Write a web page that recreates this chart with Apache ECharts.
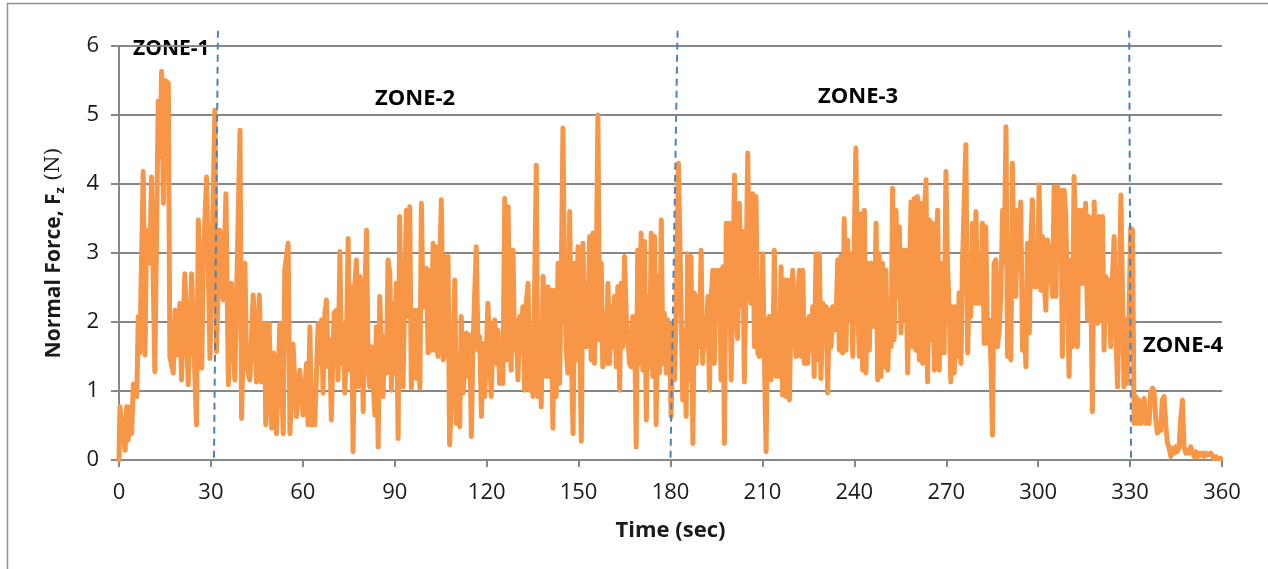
<!DOCTYPE html>
<html>
<head>
<meta charset="utf-8">
<script src="https://cdn.jsdelivr.net/npm/echarts@6/dist/echarts.min.js"></script>
<style>html,body{margin:0;padding:0;background:#fff}#c{width:1268px;height:569px}</style>
</head>
<body>
<div id="c"></div>
<script>
// [time (sec), normal force Fz (N)], by segment
const segA = [[0,0],[0.3,0.77],[2.0,0.14],[2.5,0.77],[3.0,0.29],[3.6,0.77],[4.1,0.38],[4.7,1.10],[5.8,0.92],[6.3,2.08],[6.8,1.55],[7.9,4.18],[8.5,1.52],[9.0,3.33],[10.1,2.85],[10.6,4.10],[11.7,1.28],[12.8,5.20],[13.4,4.40],[13.9,5.63],[14.5,3.72],[15.0,5.50],[16.1,5.46],[16.6,1.50],[17.7,1.26],[18.3,2.17],[18.8,1.52],[19.9,2.27],[20.4,1.16],[21.5,2.70],[22.6,1.09],[23.7,2.70],[25.3,0.51],[25.9,3.48],[27.0,1.33],[27.5,2.90],[28.6,4.10],[29.7,1.47],[31.3,5.07],[31.8,1.57],[32.9,3.33],[34.0,2.32],[34.9,3.86],[35.7,1.09],[36.7,2.56],[37.8,1.16],[39.5,4.78],[40.0,0.60],[41.1,2.85],[41.6,1.40],[42.7,1.16],[43.8,2.39],[44.9,1.13],[45.8,2.39],[46.5,1.13],[47.6,1.98],[47.9,0.51],[49.0,1.98],[49.8,0.46],[50.5,1.55],[51.4,0.38],[52.5,1.98],[53.6,0.38],[54.1,2.75],[55.2,3.14],[55.8,0.38],[56.8,1.68],[57.9,0.63],[59.0,1.30],[60.1,0.65],[61.2,1.40],[61.7,0.51],[62.3,1.93]];
const segB = [[62.8,0.51],[63.4,1.01],[63.9,0.51],[65.0,1.98],[65.5,1.40],[66.1,2.03],[66.6,0.97],[67.2,2.13],[67.7,2.32],[68.3,1.35],[68.8,1.74],[69.3,0.58],[70.2,2.13],[71.0,2.17],[71.5,1.16],[72.1,3.02],[72.6,1.40],[73.2,1.98],[73.7,0.97],[74.2,1.59],[74.8,3.21],[75.3,1.30],[75.9,2.51],[76.4,0.12],[77.0,2.56],[77.5,2.90],[78.0,1.06],[78.6,2.66],[79.1,2.46],[79.7,0.70],[80.2,2.37],[80.8,3.33],[81.3,1.40],[81.8,1.06],[82.4,1.64],[83.5,0.65],[84.0,1.93],[84.6,0.19],[85.1,2.37],[85.6,1.69],[86.2,0.92],[86.7,1.79],[87.3,1.26],[87.8,2.90],[88.4,2.71],[88.9,1.01],[89.5,2.27],[90.0,1.26],[90.5,2.56],[91.1,0.31],[91.6,3.53],[92.2,1.59],[92.7,1.06],[93.3,2.56],[93.8,3.62],[94.3,2.08],[94.9,3.67],[95.4,1.04],[96.0,1.74],[96.5,2.17],[97.1,1.18],[97.6,2.17],[98.2,1.04],[98.7,3.72],[99.2,2.32],[99.8,2.22],[100.3,2.78],[100.9,1.55],[101.4,2.75],[102.0,1.59],[102.5,3.14],[103.0,1.59],[103.6,3.09],[104.1,1.50],[104.7,2.80],[105.2,3.77],[105.8,1.45],[106.3,2.95],[106.8,1.50],[107.4,2.95],[107.9,0.22],[109.0,1.40],[109.6,2.61],[110.1,0.53],[110.7,1.50],[111.2,0.48],[111.7,2.08],[112.3,0.97],[112.8,1.30],[113.4,1.84],[113.9,1.21],[114.5,1.81],[115.0,0.34],[115.5,1.59],[116.6,3.09],[117.2,1.59],[117.7,1.79],[118.3,0.63],[118.8,1.69],[119.4,0.92],[120.4,2.27],[121.5,0.92],[122.1,1.93]];
const segC = [[122.6,2.03],[123.2,1.40],[123.7,1.88],[124.2,1.11],[124.8,1.40],[125.3,1.11],[125.9,3.79],[126.4,1.45],[127.0,3.67],[127.5,1.88],[128.0,1.30],[128.6,3.04],[129.1,1.59],[129.7,2.03],[130.2,1.16],[130.8,2.08],[131.3,1.59],[131.8,2.22],[132.4,1.01],[132.9,2.27],[133.5,2.56],[134.0,1.01],[134.6,1.93],[135.1,0.92],[135.7,2.66],[136.2,4.27],[136.7,0.92],[137.3,1.84],[137.8,0.77],[138.4,2.66],[138.9,2.13],[139.5,1.21],[140.0,2.51],[140.5,1.21],[141.1,2.46],[141.6,0.46],[142.2,2.46],[142.7,0.92],[143.3,2.85],[143.8,1.11],[144.4,2.85],[144.9,4.81],[145.4,2.61],[146.0,1.59],[146.5,1.26],[147.1,3.60],[147.6,1.59],[148.2,0.38],[148.7,2.85],[149.2,1.45],[149.8,3.09],[150.3,1.88],[150.9,0.27],[151.4,3.14],[152.0,1.84],[152.5,1.64],[153.1,2.03],[153.6,3.24],[154.1,1.45],[154.7,3.29],[155.2,1.40],[155.8,2.85],[156.3,5.00],[156.9,1.74],[157.4,2.85],[157.9,1.35],[158.5,2.13],[159.0,1.40],[159.6,2.56],[160.1,1.40],[160.7,2.22],[161.2,1.64],[161.7,2.37],[162.3,1.35],[162.8,2.51],[163.4,1.01],[163.9,2.56],[164.5,1.64],[165.0,2.95],[165.6,2.03],[166.1,1.79],[166.6,1.40],[167.2,1.35],[167.7,2.08],[168.3,1.93],[168.8,0.19],[169.3,3.04],[169.9,1.40],[170.4,3.29],[171.0,1.30],[171.5,3.17],[172.1,0.58],[172.6,2.37],[173.2,1.35],[173.7,3.29],[174.2,1.21],[174.8,3.24],[175.3,0.51],[175.9,2.66],[176.4,1.26],[177.0,3.48],[177.5,1.40],[178.0,2.13],[178.6,1.26],[179.1,2.03],[179.7,1.79],[180.2,0.63],[180.8,1.98],[181.3,1.16],[181.8,2.08],[182.6,4.30]];
const segD = [[184.0,0.87],[184.6,1.88],[185.1,0.63],[185.6,2.99],[186.2,1.16],[186.7,2.95],[187.3,0.24],[187.8,2.42],[188.4,1.40],[188.9,2.37],[189.4,1.64],[190.0,3.04],[190.5,1.40],[191.1,2.03],[191.6,1.64],[192.2,2.37],[192.7,1.01],[193.3,2.37],[193.8,2.75],[194.3,1.40],[194.9,2.75],[195.4,2.03],[196.0,2.75],[196.5,1.16],[197.1,2.80],[197.6,0.24],[198.2,3.43],[198.7,2.08],[199.2,3.43],[199.8,1.16],[200.3,2.46],[200.9,4.13],[201.4,2.22],[201.9,1.76],[202.5,3.72],[203.0,2.22],[203.6,3.31],[204.1,1.13],[204.7,2.75],[205.2,4.45],[205.8,2.46],[206.3,2.27],[206.8,3.86],[207.4,1.64],[207.9,3.82],[208.5,1.55],[209.0,1.50],[209.6,2.03],[210.1,2.99],[210.6,1.55],[211.2,0.12],[211.7,2.03],[212.3,2.08],[212.8,1.16],[213.4,1.50],[213.9,3.04],[214.5,1.21],[215.0,2.03],[215.5,1.21],[216.1,2.80],[216.6,0.94],[217.2,2.61],[217.7,0.92],[218.3,2.61],[218.8,0.87],[219.3,2.03],[219.9,2.75],[220.4,1.88],[221.0,1.50],[221.5,2.37],[222.1,2.75],[222.6,1.50],[223.2,2.75],[223.7,1.40],[224.2,2.03],[224.8,1.40],[225.3,2.08],[225.9,1.59],[226.4,2.22],[226.9,1.21],[227.5,2.99],[228.0,1.45],[228.6,2.99],[229.1,1.18],[229.7,2.27],[230.2,2.03],[230.8,2.22],[231.3,0.97],[231.8,2.17],[232.4,1.64],[232.9,2.22],[233.5,1.88],[234.0,2.03],[234.6,2.90],[235.1,1.59],[235.6,2.95],[236.2,1.55],[236.7,3.50],[237.3,1.59],[237.8,3.19],[238.4,2.03],[238.9,2.99],[239.5,1.50],[240.0,3.24],[240.5,4.52],[241.1,2.27],[241.6,1.50],[242.2,3.57],[242.7,1.30],[243.3,3.62]];
const segE = [[243.8,1.26],[244.3,2.85],[244.9,1.59],[245.4,2.85],[246.0,2.17],[246.5,1.93],[247.1,3.43],[247.6,1.16],[248.1,2.99],[248.7,1.21],[249.2,2.85],[249.8,1.35],[250.3,2.75],[250.9,1.30],[251.4,2.03],[252.0,1.64],[252.5,3.94],[253.0,1.74],[253.6,3.62],[254.1,2.37],[254.7,3.38],[255.2,1.84],[255.8,3.04],[256.3,2.03],[256.8,3.04],[257.4,1.26],[257.9,2.46],[258.5,3.74],[259.0,1.64],[259.6,3.79],[260.1,1.59],[260.6,3.82],[261.2,1.45],[261.7,3.72],[262.3,1.40],[262.8,3.53],[263.4,4.06],[263.9,1.13],[264.5,3.48],[265.0,1.74],[265.5,3.43],[266.1,1.30],[266.6,2.85],[267.2,3.62],[267.7,1.30],[268.3,2.85],[268.8,1.88],[269.3,1.55],[269.9,4.18],[270.4,2.85],[271.0,2.13],[271.5,1.13],[272.1,2.22],[272.6,1.26],[273.2,2.22],[273.7,1.50],[274.2,2.42],[274.8,1.40],[275.3,2.85],[275.9,2.85],[276.4,4.57],[277.0,1.55],[277.5,2.56],[278.0,2.08],[278.6,3.43],[279.1,2.27],[279.7,3.60],[280.2,2.27],[280.8,2.85],[281.3,2.27],[281.8,3.43],[282.4,1.69],[282.9,3.38],[283.5,1.69],[284.0,2.03],[284.6,1.40],[285.1,0.36],[285.6,2.85],[286.2,2.90],[286.7,1.64],[287.3,1.88],[287.8,2.37],[288.4,3.62],[288.9,2.85],[289.5,4.83],[290.0,1.50],[290.5,2.46],[291.1,1.45],[291.6,4.30],[292.2,2.56],[292.7,2.37],[293.2,3.62],[293.8,2.75],[294.3,3.74],[294.9,1.59],[295.4,2.27],[296.0,1.35],[296.5,3.14],[297.1,1.84],[297.6,3.14],[298.1,3.77],[298.7,2.51],[299.2,3.14],[299.8,2.51],[300.3,3.99],[300.9,2.46],[301.4,3.24],[302.0,2.56],[302.5,2.17],[303.0,3.19],[303.6,3.04]];
const segF = [[304.7,2.37],[305.2,3.96],[305.8,2.37],[306.3,3.96],[306.9,3.24],[307.4,3.91],[307.9,1.50],[308.5,3.91],[309.0,3.53],[309.6,2.32],[310.1,1.21],[310.7,2.90],[311.2,1.64],[311.7,4.11],[312.3,3.24],[312.8,1.64],[313.4,3.62],[313.9,2.56],[314.5,3.62],[315.0,2.56],[315.5,3.72],[316.1,2.03],[316.6,3.53],[317.2,2.56],[317.7,0.70],[318.3,3.74],[318.8,2.03],[319.4,1.98],[319.9,3.53],[320.4,2.03],[321.0,3.53],[321.5,1.59],[322.1,2.66],[322.6,2.03],[323.2,2.61],[323.7,1.64],[324.2,2.61],[324.8,3.24],[325.3,1.98],[325.9,1.06],[326.4,2.17],[327.0,3.84],[327.5,3.82],[328.0,1.06],[328.6,2.03],[329.1,1.11],[329.7,2.22],[330.2,3.36],[330.8,3.33],[331.3,0.53],[331.9,0.92],[332.4,0.53],[332.9,0.87],[333.5,0.53],[334.0,0.53],[334.6,0.89],[335.1,0.53],[335.7,0.58],[336.2,0.53],[336.7,0.97],[337.3,1.04],[337.8,1.01],[338.4,0.58],[338.9,0.39],[339.5,0.51],[340.0,0.43],[340.5,0.87],[341.1,0.92],[341.6,0.53],[342.2,0.24],[342.7,0.19],[343.3,0.05],[343.8,0.17],[344.4,0.10],[344.9,0.19],[345.4,0.12],[346.0,0.19],[346.5,0.58],[347.1,0.87],[347.6,0.19],[348.2,0.10],[348.7,0.14],[349.2,0.10],[349.8,0.19],[350.3,0.12],[350.9,0.05],[351.4,0.12],[352.0,0.05],[352.5,0.10],[353.0,0.07],[353.6,0.10],[354.1,0.05],[354.7,0.10],[355.2,0.07],[355.8,0.05],[356.3,0.10],[356.9,0.12],[357.4,0.02],[358.0,0.05],[358.5,0.02],[359.0,0.02],[359.6,0.02]];

// zone boundary dashed lines: [top point, bottom point] in data units
const zoneLines = [
  [[32.3, 6.22], [31.0, 0]],
  [[182.3, 6.22], [180.0, 0]],
  [[329.7, 6.22], [330.3, 0]]
];
const zoneNames = ['ZONE-1', 'ZONE-2', 'ZONE-3', 'ZONE-4'];

const forceData = [].concat(segA, segB, segC, segD, segE, segF);

const chart = echarts.init(document.getElementById('c'), null, {renderer: 'canvas'});
const gridColor = '#878787';
const txt = '#1a1a1a';
const font = 'Open Sans';

const zoneSeries = zoneLines.map(l => ({
  type: 'line',
  data: l,
  showSymbol: false,
  symbol: 'none',
  clip: false,
  silent: true,
  lineStyle: {color: '#4F81BD', width: 2, type: [7, 5]},
  z: 3
}));

chart.setOption({
  animation: false,
  backgroundColor: '#ffffff',
  grid: {left: 119, right: 46, top: 46, bottom: 109, containLabel: false},
  xAxis: {
    type: 'value', min: 0, max: 360, interval: 30,
    name: 'Time (sec)', nameLocation: 'middle', nameGap: 60,
    nameTextStyle: {fontFamily: font, fontSize: 22, fontWeight: 'bold', color: txt},
    axisLine: {show: true, lineStyle: {color: gridColor, width: 2}},
    axisTick: {show: true, length: 7, lineStyle: {color: gridColor, width: 2}},
    axisLabel: {fontFamily: font, fontSize: 22, color: txt, margin: 22},
    splitLine: {show: false}
  },
  yAxis: {
    type: 'value', min: 0, max: 6, interval: 1,
    name: '{a|Normal Force, F}{b|z}{c| (N)}', nameLocation: 'middle', nameGap: 52, nameRotate: 90,
    nameTextStyle: {
      rich: {
        a: {fontFamily: font, fontSize: 21, fontWeight: 'bold', color: txt, lineHeight: 26},
        b: {fontFamily: font, fontSize: 13, fontWeight: 'bold', color: txt, verticalAlign: 'bottom', lineHeight: 26},
        c: {fontFamily: 'DejaVu Serif', fontSize: 20, color: txt, lineHeight: 26}
      }
    },
    axisLine: {show: true, lineStyle: {color: gridColor, width: 2}},
    axisTick: {show: true, length: 8, lineStyle: {color: gridColor, width: 2}},
    axisLabel: {fontFamily: font, fontSize: 22, color: txt, margin: 20},
    splitLine: {show: true, lineStyle: {color: gridColor, width: 2}}
  },
  series: [{
    type: 'line',
    data: forceData,
    showSymbol: false,
    symbol: 'none',
    clip: false,
    lineStyle: {color: '#F79646', width: 5, join: 'round', cap: 'round'},
    z: 2
  }].concat(zoneSeries),
  graphic: [
    {type: 'rect', shape: {x: 7.5, y: 3.5, width: 1400, height: 700}, style: {fill: 'none', stroke: '#8f8f8f', lineWidth: 1.5}, silent: true, z: -1},
    {type: 'text', x: 133, y: 49, style: {text: zoneNames[0], font: 'bold 21px "Open Sans"', fill: '#000', verticalAlign: 'middle'}},
    {type: 'text', x: 375, y: 99, style: {text: zoneNames[1], font: 'bold 22px "Open Sans"', fill: '#000', verticalAlign: 'middle'}},
    {type: 'text', x: 818, y: 97, style: {text: zoneNames[2], font: 'bold 22px "Open Sans"', fill: '#000', verticalAlign: 'middle'}},
    {type: 'text', x: 1143, y: 346, style: {text: zoneNames[3], font: 'bold 22px "Open Sans"', fill: '#000', verticalAlign: 'middle'}}
  ]
});
</script>
</body>
</html>
